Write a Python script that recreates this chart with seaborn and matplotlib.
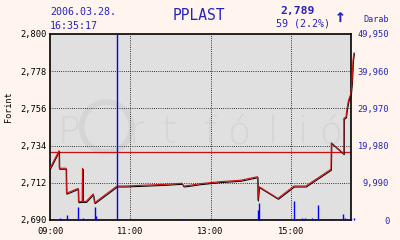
import numpy as np
import pandas as pd
import matplotlib
matplotlib.use("Agg")
import matplotlib.pyplot as plt
import matplotlib.transforms as mtransforms
from matplotlib.patches import Ellipse
import seaborn as sns

# ---- data ----
price_time = [9.00, 9.225, 9.23, 9.40, 9.41, 9.70, 9.71, 9.80, 9.81, 9.815, 9.90, 10.075,
              10.11, 10.67, 10.875, 11.875, 12.29, 12.33, 12.50, 12.75, 13.25, 13.75,
              14.17, 14.18, 14.21, 14.68, 15.08, 15.375, 16.00, 16.01, 16.32, 16.322,
              16.375, 16.40, 16.44, 16.50, 16.525, 16.55, 16.575]
price = [2720.6, 2731.0, 2720.6, 2720.6, 2705.8, 2708.7, 2700.8, 2701.0, 2720.6, 2701.0,
         2701.0, 2705.4, 2700.2, 2710.1, 2710.1, 2711.1, 2711.7, 2710.1, 2710.6, 2711.5,
         2712.7, 2713.5, 2715.6, 2701.8, 2709.7, 2702.8, 2710.1, 2710.1, 2720.0, 2735.7,
         2729.2, 2750.1, 2751.0, 2756.0, 2761.0, 2765.0, 2771.8, 2784.6, 2789.0]
prev_close = 2730

vol_time = [9.25, 9.42, 9.71, 9.81, 9.92, 10.11, 10.15, 10.67, 12.29, 14.18, 14.21, 14.68,
            15.08, 15.29, 15.35, 15.52, 15.68, 16.03, 16.31, 16.36, 16.44, 16.50, 16.58]
volume = [540, 1340, 3400, 540, 270, 3500, 1070, 49950, 270, 2700, 4600, 270,
          5100, 540, 540, 540, 4030, 270, 1610, 540, 270, 540, 540]

price_ticks = [2690, 2712, 2734, 2756, 2778, 2800]
price_tick_labels = ["2,690", "2,712", "2,734", "2,756", "2,778", "2,800"]
vol_ticks = [0, 9990, 19980, 29970, 39960, 49950]
vol_tick_labels = ["0", "9,990", "19,980", "29,970", "39,960", "49,950"]
time_ticks = [9, 11, 13, 15]
time_tick_labels = ["09:00", "11:00", "13:00", "15:00"]

ticker = "PPLAST"
date_txt = "2006.03.28."
time_txt = "16:35:17"
last_txt = "2,789"
change_txt = "59 (2.2%)"

# ---- style ----
BG = "#fff5ee"
PLOT_BG = "#e0e0e0"
BLUE_TXT = "#2424c0"
BAR_BLUE = "#0000ff"
RED = "#d01010"
MONO = "DejaVu Sans Mono"

sns.set_style("white")
plt.rcParams["font.family"] = [MONO, "DejaVu Sans"]

fig = plt.figure(figsize=(4, 2.4), dpi=100, facecolor=BG)
W, H = 400, 240
L, R, T, B = 50, 351, 34, 220
ax = fig.add_axes([L / W, 1 - B / H, (R - L) / W, (B - T) / H])
ax.set_facecolor(PLOT_BG)

# watermark
wm_col = "#d5d5d5"
ax.add_patch(Ellipse((0.188, 0.50), 50 / (R - L), 50 / (B - T), transform=ax.transAxes,
                     fill=False, edgecolor=wm_col, lw=4.0, zorder=0))
for ch, xf in zip("Prtfólió", [0.063, 0.288, 0.393, 0.532, 0.631, 0.741, 0.841, 0.936]):
    ax.text(xf, 0.47, ch, transform=ax.transAxes, ha="center", va="center",
            fontsize=27, color=wm_col, family="DejaVu Sans", fontweight="light", zorder=0)

ax.set_xlim(9, 16.5)
ax.set_ylim(2690, 2800)

# grid
dot = (0, (0.72, 1.44))
for t in time_ticks[1:]:
    ax.axvline(t, color="black", lw=0.72, ls=dot, zorder=1)
for p in price_ticks[1:-1]:
    ax.axhline(p, color="black", lw=0.72, ls=dot, zorder=1)

ax.axhline(prev_close, color=RED, lw=0.9, zorder=2)

df = pd.DataFrame({"t": price_time, "p": price})
sns.lineplot(data=df, x="t", y="p", sort=False, estimator=None, ax=ax, color="black", lw=0.75, zorder=3)
shadow = ax.lines[-1]
shadow.set_transform(mtransforms.offset_copy(ax.transData, fig=fig, x=0.5, y=-1.0, units="dots"))
shadow.set_clip_on(False)
sns.lineplot(data=df, x="t", y="p", sort=False, estimator=None, ax=ax, color=RED, lw=0.8, zorder=4)
ax.lines[-1].set_clip_on(False)

ax.set_xticks(time_ticks)
ax.set_xticklabels(time_tick_labels)
ax.set_yticks(price_ticks)
ax.set_yticklabels(price_tick_labels)
ax.tick_params(axis="both", length=0, labelsize=6.3, colors="black")
ax.tick_params(axis="x", pad=5)
ax.tick_params(axis="y", pad=2.5)
ax.set_xlabel("")
ax.set_ylabel("")
for s in ax.spines.values():
    s.set_visible(True)
    s.set_color("black")
    s.set_linewidth(1.2)

# volume on twin axis
ax2 = ax.twinx()
ax2.set_ylim(0, 49950)
ax2.vlines(vol_time, 0, volume, color=BAR_BLUE, lw=1.0, clip_on=False)
ax2.set_yticks(vol_ticks)
ax2.set_yticklabels(vol_tick_labels)
ax2.tick_params(axis="y", length=0, labelsize=6.3, labelcolor=BLUE_TXT, pad=27.5)
for lab in ax2.get_yticklabels():
    lab.set_horizontalalignment("right")
for s in ax2.spines.values():
    s.set_visible(False)
ax2.set_xlim(9, 16.5)

# header texts (in pixel-like figure coords)
def ft(x, y, s, **kw):
    fig.text(x / W, 1 - y / H, s, **kw)

ft(50, 12, date_txt, ha="left", va="center", fontsize=7.2, color=BLUE_TXT)
ft(50, 26, time_txt, ha="left", va="center", fontsize=7.2, color=BLUE_TXT)
ft(199, 16, ticker, ha="center", va="center", fontsize=10.5, color=BLUE_TXT)
ft(298, 11, last_txt, ha="center", va="center", fontsize=8.2, color=BLUE_TXT, fontweight="bold")
ft(302.5, 24, change_txt, ha="center", va="center", fontsize=7.2, color=BLUE_TXT)
ft(340, 17.5, "↑", ha="center", va="center", fontsize=13, color=BLUE_TXT, fontweight="bold")
ft(376.5, 19, "Darab", ha="center", va="center", fontsize=6.1, color=BLUE_TXT)
ft(9, 107, "Forint", ha="center", va="center", fontsize=6.1, color="black", rotation=90)

fig.savefig("out.png", dpi=100, facecolor=BG)
